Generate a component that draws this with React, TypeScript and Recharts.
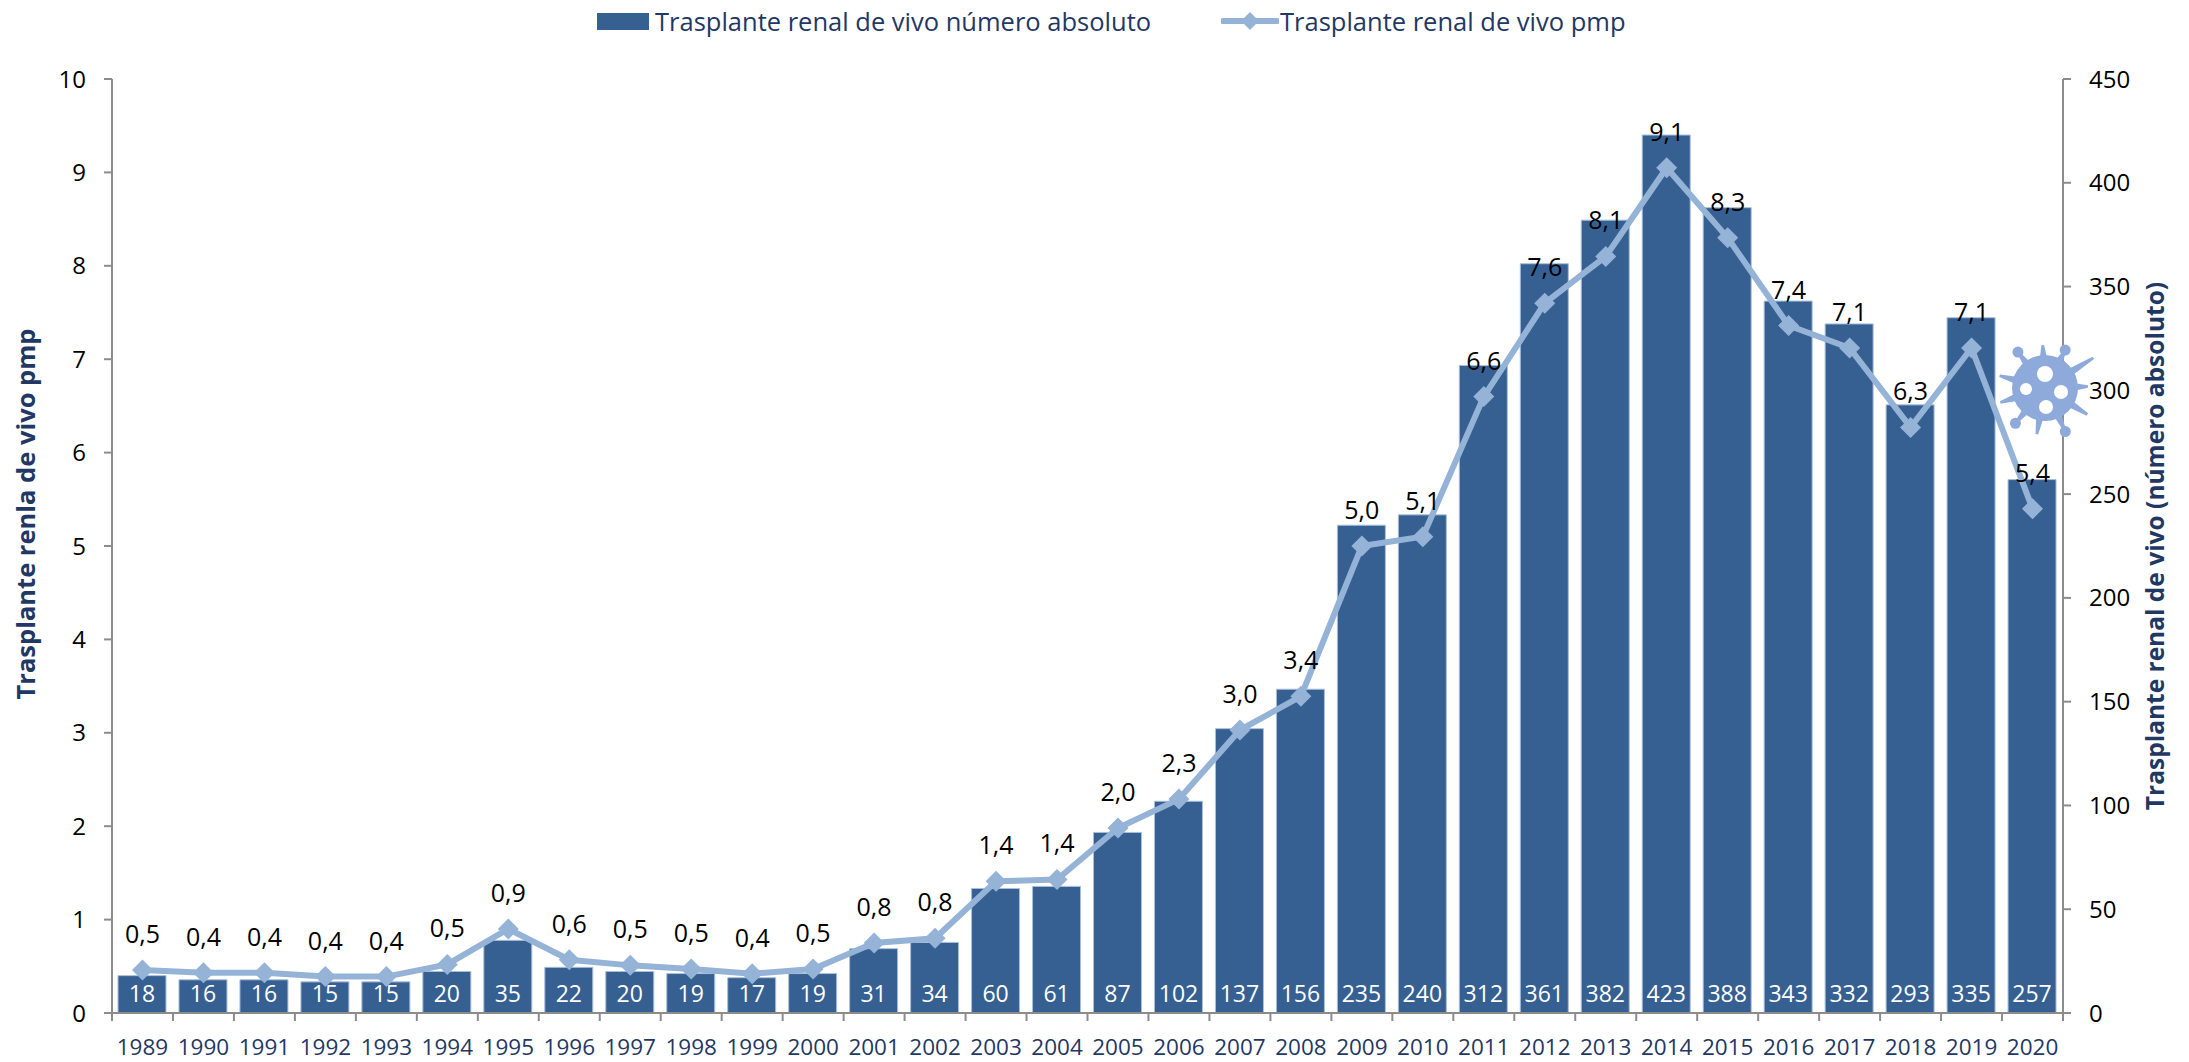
import React from 'react';
import { ComposedChart, Bar, Line, XAxis, YAxis, LabelList, Legend } from 'recharts';

const years = [1989,1990,1991,1992,1993,1994,1995,1996,1997,1998,1999,2000,2001,2002,2003,2004,2005,2006,2007,2008,2009,2010,2011,2012,2013,2014,2015,2016,2017,2018,2019,2020];
const absolute = [18,16,16,15,15,20,35,22,20,19,17,19,31,34,60,61,87,102,137,156,235,240,312,361,382,423,388,343,332,293,335,257];
const pmp = [0.46,0.43,0.43,0.39,0.39,0.52,0.9,0.57,0.51,0.47,0.42,0.47,0.75,0.8,1.41,1.43,1.98,2.29,3.03,3.39,5.0,5.1,6.6,7.6,8.1,9.05,8.3,7.36,7.12,6.27,7.12,5.4];
const leftTicks = [0,1,2,3,4,5,6,7,8,9,10];
const rightTicks = [0,50,100,150,200,250,300,350,400,450];
const barName = 'Trasplante renal de vivo número absoluto';
const lineName = 'Trasplante renal de vivo pmp';
const leftTitle = 'Trasplante renla de vivo pmp';
const rightTitle = 'Trasplante renal de vivo (número absoluto)';

const data = years.map((year, i) => ({ year, absolute: absolute[i], pmp: pmp[i] }));

const FONT = '"Open Sans", sans-serif';
const NAVY = '#1F3864';
const BAR = '#376092';
const LINE = '#95B3D7';
const AXIS = '#8C8C8C';
const VIRUS = '#8EAADB';
const BAND = 1951 / 32;

const XTick = (props: any) => {
  const { x, y, payload } = props;
  const last = payload.value === years[years.length - 1];
  return (
    <g>
      <line x1={x - BAND / 2} x2={x - BAND / 2} y1={y} y2={y + 8} stroke={AXIS} strokeWidth={2} />
      {last && <line x1={x + BAND / 2} x2={x + BAND / 2} y1={y} y2={y + 8} stroke={AXIS} strokeWidth={2} />}
      <text x={x} y={y + 42} textAnchor="middle" fontSize={22.5} fill={NAVY} fontFamily={FONT}>{payload.value}</text>
    </g>
  );
};

const Diamond = (props: any) => {
  const { cx, cy, index } = props;
  const r = 10.5;
  return <polygon key={index} points={`${cx},${cy - r} ${cx + r},${cy} ${cx},${cy + r} ${cx - r},${cy}`} fill={LINE} />;
};

const legendText: React.CSSProperties = { position: 'absolute', top: 4, lineHeight: '34px', whiteSpace: 'nowrap' };

const LegendContent = () => (
  <div style={{ position: 'relative', height: 40, fontFamily: FONT, fontSize: 25.5, color: NAVY }}>
    <div style={{ position: 'absolute', left: 597, top: 13, width: 52, height: 17, background: BAR }} />
    <div style={{ ...legendText, left: 655 }}>{barName}</div>
    <svg style={{ position: 'absolute', left: 1221, top: 8 }} width={58} height={26}>
      <line x1={2} x2={56} y1={13} y2={13} stroke={LINE} strokeWidth={6} strokeLinecap="round" />
      <polygon points="29,4 38,13 29,22 20,13" fill={LINE} />
    </svg>
    <div style={{ ...legendText, left: 1280 }}>{lineName}</div>
  </div>
);

const spikes = [
  { a: -127, l: 45, ball: true }, { a: -93, l: 43, ball: false }, { a: -62, l: 43, ball: true },
  { a: -32, l: 57, ball: false }, { a: -2, l: 43, ball: false }, { a: 32, l: 50, ball: false },
  { a: 65, l: 48, ball: true }, { a: 100, l: 47, ball: false }, { a: 130, l: 46, ball: true },
  { a: 162, l: 47, ball: false }, { a: 195, l: 47, ball: false },
];
const holes = [[0, -14, 8], [-19, 1, 6], [16, 4, 7], [1, 19, 7]];

const Virus = () => (
  <svg style={{ position: 'absolute', left: 1985, top: 328 }} width={120} height={120} viewBox="-60 -60 120 120">
    <circle r={33} fill={VIRUS} />
    {spikes.map((s, i) => {
      const t = (s.a * Math.PI) / 180;
      const x = Math.cos(t) * s.l;
      const y = Math.sin(t) * s.l;
      const px = -Math.sin(t) * 4;
      const py = Math.cos(t) * 4;
      const bx = Math.cos(t) * 28;
      const by = Math.sin(t) * 28;
      return (
        <g key={i}>
          <polygon points={`${bx + px},${by + py} ${x + px / 3},${y + py / 3} ${x - px / 3},${y - py / 3} ${bx - px},${by - py}`} fill={VIRUS} />
          {s.ball && <circle cx={x} cy={y} r={5.5} fill={VIRUS} />}
        </g>
      );
    })}
    {holes.map((h, i) => <circle key={i} cx={h[0]} cy={h[1]} r={h[2]} fill="#fff" />)}
  </svg>
);

const fmt = (v: any) => Number(v).toFixed(1).replace('.', ',');

export default function App() {
  return (
    <div style={{ position: 'absolute', left: 0, top: 0, width: 2189, height: 1062, background: '#fff', fontFamily: FONT }}>
      <ComposedChart width={2189} height={1062} data={data} margin={{ top: 39, right: 0, bottom: 0, left: 0 }} barSize={48}>
        <XAxis dataKey="year" interval={0} height={49} tick={<XTick />} tickLine={false} tickMargin={0} tickSize={0} axisLine={{ stroke: AXIS, strokeWidth: 2 }} />
        <YAxis yAxisId="left" orientation="left" width={112} domain={[0, 10]} ticks={leftTicks} interval={0} tickSize={8} tickMargin={18}
          tick={{ fontSize: 24, fill: '#000', fontFamily: FONT }} tickLine={{ stroke: AXIS, strokeWidth: 2 }} axisLine={{ stroke: AXIS, strokeWidth: 2 }}
          label={{ value: leftTitle, angle: -90, position: 'insideLeft', dx: 21, dy: -32, style: { textAnchor: 'middle', fontSize: 25.5, fontWeight: 700, fill: NAVY, fontFamily: FONT } }} />
        <YAxis yAxisId="right" orientation="right" width={126} domain={[0, 450]} ticks={rightTicks} interval={0} tickSize={8} tickMargin={18}
          tick={{ fontSize: 24, fill: '#000', fontFamily: FONT }} tickLine={{ stroke: AXIS, strokeWidth: 2 }} axisLine={{ stroke: AXIS, strokeWidth: 2 }}
          label={{ value: rightTitle, angle: -90, position: 'insideRight', dx: -29, style: { textAnchor: 'middle', fontSize: 24.5, fontWeight: 700, fill: NAVY, fontFamily: FONT } }} />
        <Legend verticalAlign="top" content={<LegendContent />} wrapperStyle={{ position: 'absolute', left: 0, top: 0, width: 2189, height: 40 }} />
        <Bar yAxisId="right" dataKey="absolute" name={barName} fill={BAR} stroke="#A9BFDA" strokeWidth={1} isAnimationActive={false}>
          <LabelList dataKey="absolute" position="insideBottom" offset={11} fill="#fff" fontSize={23} fontFamily={FONT} />
        </Bar>
        <Line yAxisId="left" dataKey="pmp" name={lineName} stroke={LINE} strokeWidth={6} dot={Diamond} activeDot={false} isAnimationActive={false}>
          <LabelList dataKey="pmp" position="top" offset={27} fill="#000" fontSize={25} fontFamily={FONT} formatter={fmt} />
        </Line>
      </ComposedChart>
      <Virus />
    </div>
  );
}
